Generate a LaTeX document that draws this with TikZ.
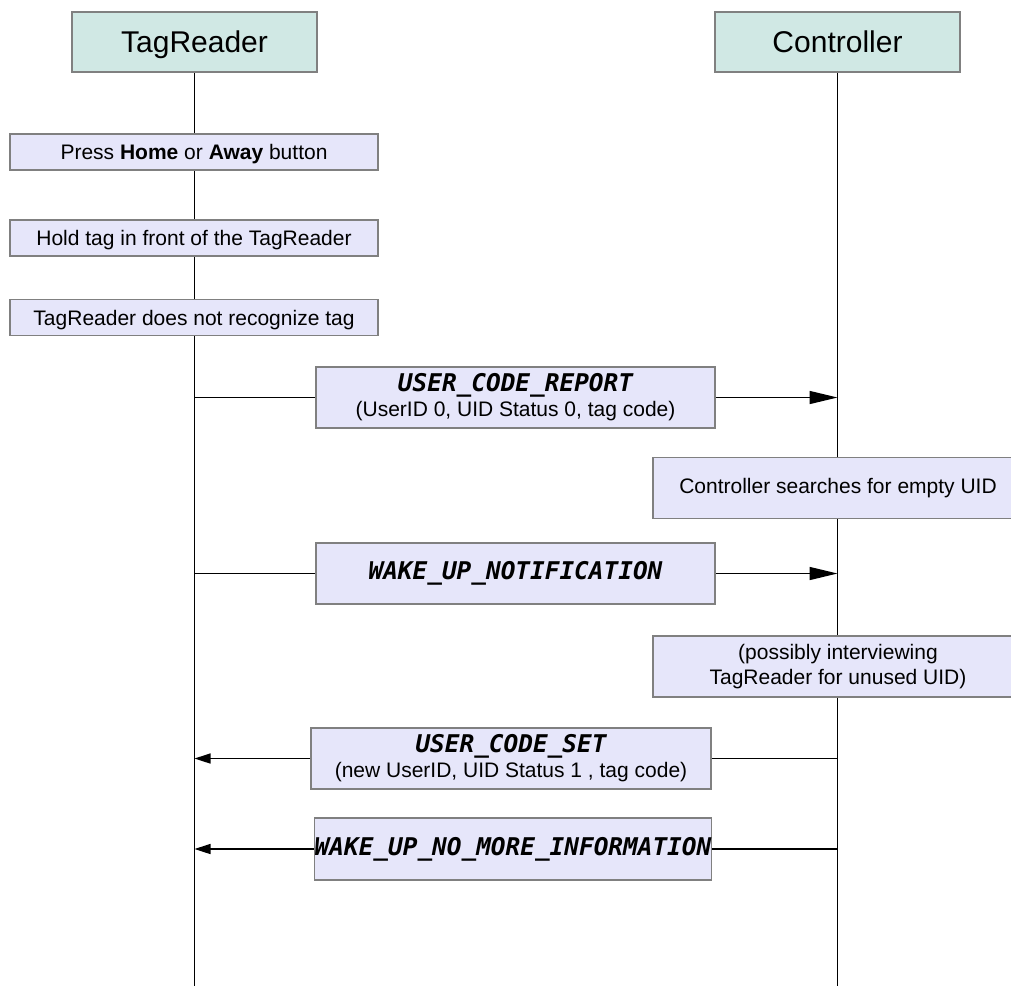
\documentclass[tikz,border=0pt]{standalone}
\usepackage{fontspec}
\setmainfont{Liberation Sans}
\newfontfamily\msgfont{DejaVu Sans Mono}
\newcommand{\mname}[1]{{\fontsize{24.4}{26}\selectfont\msgfont\bfseries\itshape #1}}
\usetikzlibrary{arrows.meta}
\pgfdeclarelayer{bg}
\pgfsetlayers{bg,main}
\definecolor{headfill}{RGB}{208,232,228}
\definecolor{boxfill}{RGB}{230,230,250}
\definecolor{boxdraw}{RGB}{128,128,128}
\tikzset{
  head/.style={draw=boxdraw, line width=1.6pt, fill=headfill, minimum width=245pt, minimum height=60pt, inner sep=0pt, text height=21pt, text depth=0pt, font=\fontsize{30}{32}\selectfont},
  act/.style={draw=boxdraw, line width=1.6pt, fill=boxfill, minimum width=368pt, minimum height=36pt, inner sep=0pt, text height=15pt, text depth=0pt, font=\fontsize{21}{25}\selectfont},
  act2/.style={draw=boxdraw, line width=1.6pt, fill=boxfill, minimum width=370pt, minimum height=61pt, inner sep=0pt, align=center, font=\fontsize{21}{25}\selectfont},
  msgbox/.style={draw=boxdraw, line width=1.6pt, fill=boxfill, minimum width=399pt, minimum height=61pt, inner sep=0pt, align=center, font=\fontsize{21}{25}\selectfont},
  life/.style={line width=1.5pt, black},
  msgR/.style={line width=1.5pt, black, -{Triangle[length=28pt,width=13pt]}},
  msgL/.style={line width=1.5pt, black, -{Triangle[length=16pt,width=10pt]}}
}
\begin{document}
\begin{tikzpicture}[x=1pt,y=-1pt]
\useasboundingbox (0,0) rectangle (1011,986);
\clip (0,0) rectangle (1011,986);
\node[head] (tr) at (194.5,42) {TagReader};
\node[head] (ct) at (837.5,42) {Controller};
\coordinate (trend) at (194.5,986);
\coordinate (ctend) at (837.5,986);

\node[act] (a1) at (194,152) {Press \textbf{Home} or \textbf{Away} button};
\node[act] (a2) at (194,238) {Hold tag in front of the TagReader};
\node[act] (a3) at (194,317.5) {TagReader does not recognize tag};

\node[msgbox] (m1) at (515.5,397.5) {\mname{USER\_CODE\_REPORT}\\(UserID 0, UID Status 0, tag code)};
\node[act2] (c1) at (838,488) {Controller searches for empty UID};
\node[msgbox] (m2) at (515.5,573.5) {\mname{WAKE\_UP\_NOTIFICATION}};
\node[act2] (c2) at (838,666.5) {(possibly interviewing\\TagReader for unused UID)};
\node[msgbox, minimum width=400pt] (m3) at (511,758.5) {\mname{USER\_CODE\_SET}\\(new UserID, UID Status 1 , tag code)};
\node[msgbox, minimum width=396pt, minimum height=62pt] (m4) at (513,849) {\mname{WAKE\_UP\_NO\_MORE\_INFORMATION}};

\begin{pgfonlayer}{bg}
\draw[life] (tr.south) -- (trend);
\draw[life] (ct.south) -- (ctend);
\draw[msgR] (tr.south |- m1.center) -- (ct.south |- m1.center);
\draw[msgR] (tr.south |- m2.center) -- (ct.south |- m2.center);
\draw[msgL] (ct.south |- m3.center) -- (tr.south |- m3.center);
\draw[msgL] (ct.south |- m4.center) -- (tr.south |- m4.center);
\end{pgfonlayer}
\end{tikzpicture}
\end{document}
